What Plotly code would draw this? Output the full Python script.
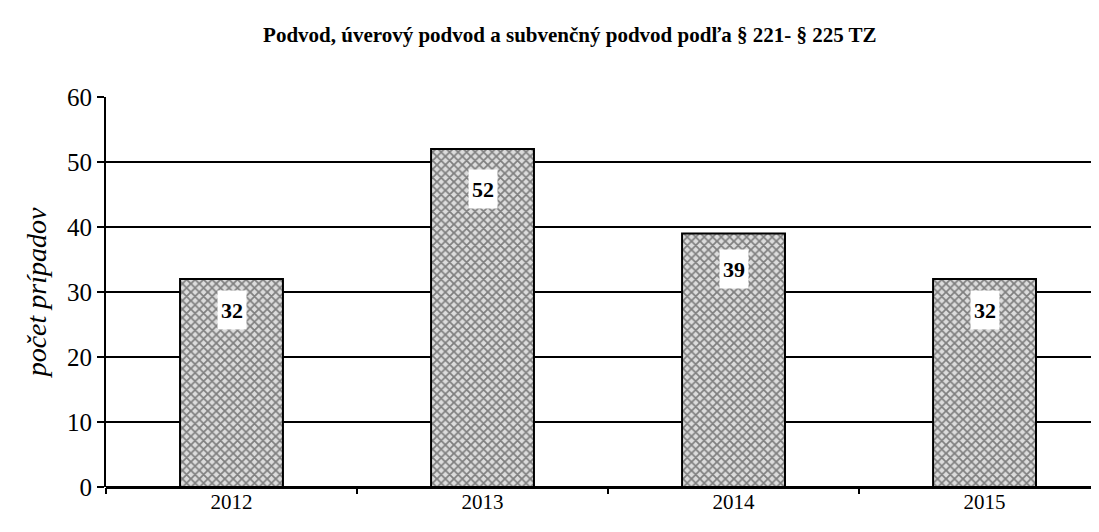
import plotly.graph_objects as go

years = ["2012", "2013", "2014", "2015"]
cases = [32, 52, 39, 32]
title_text = "Podvod, úverový podvod a subvenčný podvod podľa § 221- § 225 TZ"
y_title = "počet prípadov"
y_ticks = [0, 10, 20, 30, 40, 50, 60]

# label offsets below bar tops (pixels) - style only
label_offsets = [-31, -40, -35, -31]

fig = go.Figure()
fig.add_trace(go.Bar(
    x=years, y=cases, width=0.41,
    marker=dict(
        color="#b0b0b0",
        line=dict(color="black", width=2),
        pattern=dict(shape="x", fgcolor="#222222", bgcolor="#dcdcdc", size=6, solidity=0.5),
    ),
    showlegend=False,
))

for i, v in enumerate(cases):
    fig.add_annotation(
        x=i, y=v, xref="x", yref="y", yshift=label_offsets[i], text="<b>%d</b>" % v, showarrow=False,
        font=dict(family="Liberation Serif", size=22, color="black"),
        bgcolor="white", width=28, height=38, borderpad=0,
    )

fig.update_layout(
    width=1091, height=524,
    margin=dict(l=98, r=0, t=89, b=45),
    paper_bgcolor="white", plot_bgcolor="white",
    title=dict(text="<b>" + title_text + "</b>", x=0.515, xanchor="center", y=0.95, yanchor="middle",
               font=dict(family="Liberation Serif", size=21, color="black")),
)
fig.update_xaxes(
    type="category", range=[-0.5, 3.456], tickson="boundaries",
    ticks="outside", ticklen=6, tickwidth=2, tickcolor="black",
    showgrid=False, showline=False,
    tickfont=dict(family="Liberation Serif", size=21, color="black"),
)
fig.update_yaxes(
    range=[0, 60], tickvals=y_ticks,
    showgrid=True, gridcolor="black", gridwidth=2,
    zeroline=True, zerolinecolor="black", zerolinewidth=3,
    showline=True, linecolor="black", linewidth=2,
    ticks="outside", ticklen=7, tickwidth=2, tickcolor="black",
    tickfont=dict(family="Liberation Serif", size=25, color="black"),
    title=dict(text="<i>" + y_title + "</i>", font=dict(family="Liberation Serif", size=28, color="black"), standoff=12),
)

fig.write_html("out.html")
